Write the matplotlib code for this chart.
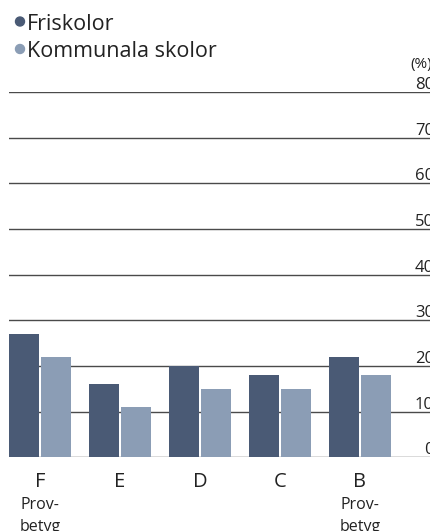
import numpy as np
import matplotlib
matplotlib.use("Agg")
import matplotlib.pyplot as plt
from matplotlib.patches import Ellipse

# data
grades = ["F", "E", "D", "C", "B"]
sublabels = ["Prov-\nbetyg", "", "", "", "Prov-\nbetyg"]
friskolor = [27, 16, 20, 18, 22]
kommunala = [22, 11, 15, 15, 18]
yticks = [0, 10, 20, 30, 40, 50, 60, 70, 80]

dark = "#4a5a75"
light = "#8b9db5"
txt = "#222222"
plt.rcParams["font.family"] = ["Open Sans", "DejaVu Sans"]

W, H = 431, 531
fig = plt.figure(figsize=(W / 100, H / 100), dpi=100)

# axes placed in pixel terms: left 9px, bottom at y=457, top at y=92
left, right = 9, 431
y0, y80 = 457.3, 92
ax = fig.add_axes([left / W, (H - y0) / H, (right - left) / W, (y0 - y80) / H])

x = np.arange(len(grades))
w = 0.375
ax.bar(x - 0.2, friskolor, w, color=dark, zorder=3)
ax.bar(x + 0.2, kommunala, w, color=light, zorder=3)

ax.set_xlim(-0.3875, -0.3875 + (right - left) / 80)
ax.set_ylim(0, 80)
for v in yticks:
    ax.axhline(v, color="#4a4a4a", lw=1.0, zorder=1)
    ypix = y0 - (y0 - y80) * v / 80
    fig.text(434 / W, (H - ypix + 3) / H, str(v),
             ha="right", va="baseline", fontsize=12, color=txt)
fig.text(432 / W, (H - 68) / H, "(%)", ha="right", va="baseline",
         fontsize=11, color=txt)

for s in ax.spines.values():
    s.set_visible(False)
ax.set_xticks([])
ax.set_yticks([])

for i, g in enumerate(grades):
    ax.text(x[i], -3.2, g, ha="center", va="top", fontsize=14.5, color=txt)
    if sublabels[i]:
        ax.text(x[i], -8.6, sublabels[i], ha="center", va="top", fontsize=11.5,
                color=txt, linespacing=1.55)

# legend drawn by hand
fig.text(27 / W, (H - 29.5) / H, "Friskolor", ha="left", va="baseline",
         fontsize=15.5, color=txt)
fig.text(27 / W, (H - 57) / H, "Kommunala skolor", ha="left", va="baseline",
         fontsize=15.5, color=txt)
fig.add_artist(Ellipse((20 / W, (H - 21.5) / H), 9 / W, 9 / H,
                       color=dark, transform=fig.transFigure))
fig.add_artist(Ellipse((20 / W, (H - 49) / H), 9 / W, 9 / H,
                       color=light, transform=fig.transFigure))

fig.savefig("out.png", dpi=100)
